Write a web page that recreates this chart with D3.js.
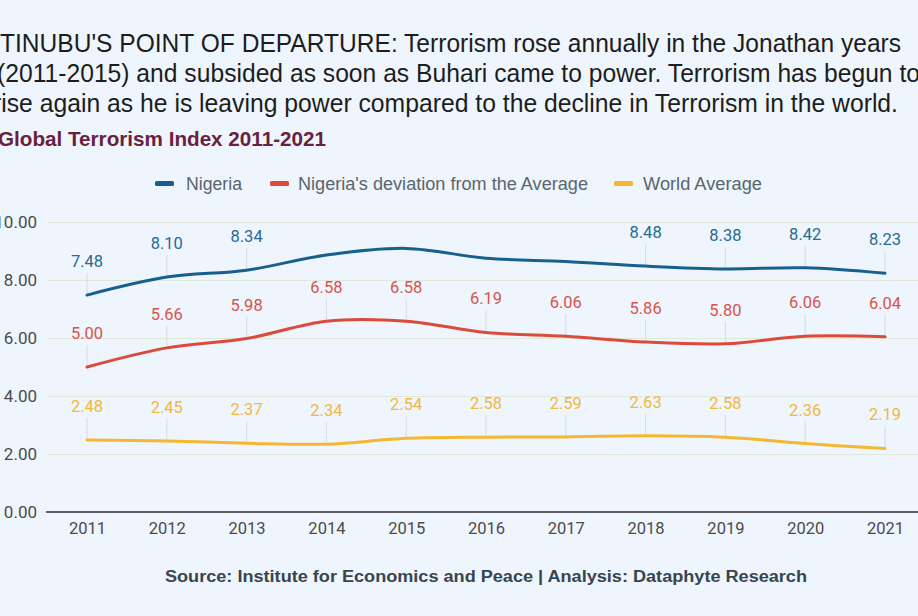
<!DOCTYPE html>
<html>
<head>
<meta charset="utf-8">
<script src="https://cdn.jsdelivr.net/npm/d3@7"></script>
<style>
  html, body { margin: 0; padding: 0; background: #eef5fc; overflow: hidden; }
  svg { display: block; }
</style>
</head>
<body>
<svg id="chart" width="918" height="616"></svg>
<script>
// ---- data ----
const years = [2011, 2012, 2013, 2014, 2015, 2016, 2017, 2018, 2019, 2020, 2021];
const nigeria = [7.48, 8.10, 8.34, 8.86, 9.09, 8.75, 8.64, 8.48, 8.38, 8.42, 8.23];
const deviation = [5.00, 5.66, 5.98, 6.58, 6.58, 6.19, 6.06, 5.86, 5.80, 6.06, 6.04];
const worldAverage = [2.48, 2.45, 2.37, 2.34, 2.54, 2.58, 2.59, 2.63, 2.58, 2.36, 2.19];
const nigeriaUnlabelledYears = [2014, 2015, 2016, 2017];
const yTicks = [0, 2, 4, 6, 8, 10];
const seriesNames = ["Nigeria", "Nigeria's deviation from the Average", "World Average"];
const titleLines = [
  "TINUBU'S POINT OF DEPARTURE: Terrorism rose annually in the Jonathan years",
  "(2011-2015) and subsided as soon as Buhari came to power. Terrorism has begun to",
  "rise again as he is leaving power compared to the decline in Terrorism in the world."
];
const subtitle = "Global Terrorism Index 2011-2021";
const source = "Source: Institute for Economics and Peace | Analysis: Dataphyte Research";

// ---- styles ----
const colors = ["#175f8c", "#dc4a3b", "#f5b730"];
const labelColors = ["#2a6a92", "#d9534a", "#f2b840"];
const SANS = "'Liberation Sans', Arial, sans-serif";
const ROBOTO = "Roboto, 'Noto Sans', sans-serif";

const svg = d3.select("#chart");
svg.append("rect").attr("width", 918).attr("height", 616).attr("fill", "#eef5fc");

// title
const titleX = [0, -3, -7];
const titleLen = [901, 923, 905];
const titleY = [52, 82, 111.5];
titleLines.forEach((t, i) => {
  svg.append("text")
    .attr("x", titleX[i]).attr("y", titleY[i])
    .attr("font-family", SANS).attr("font-size", 26)
    .attr("fill", "#1d1d1d")
    .attr("textLength", titleLen[i]).attr("lengthAdjust", "spacingAndGlyphs")
    .text(t);
});
svg.append("text")
  .attr("x", -2).attr("y", 146)
  .attr("font-family", SANS).attr("font-size", 20.5).attr("font-weight", "bold")
  .attr("fill", "#6b1f3e")
  .attr("textLength", 328).attr("lengthAdjust", "spacingAndGlyphs")
  .text(subtitle);

// legend
const legendMarkX = [155, 270, 614];
const legendTextX = [186, 298, 643];
const legendTextLen = [56, 290, 119];
seriesNames.forEach((n, i) => {
  svg.append("rect")
    .attr("x", legendMarkX[i]).attr("y", 181)
    .attr("width", 19).attr("height", 5).attr("rx", 1.5)
    .attr("fill", colors[i]);
  svg.append("text")
    .attr("x", legendTextX[i]).attr("y", 189.5)
    .attr("font-family", SANS).attr("font-size", 17.5)
    .attr("fill", "#5a656e")
    .attr("textLength", legendTextLen[i]).attr("lengthAdjust", "spacingAndGlyphs")
    .text(n);
});

// scales
const x = d3.scalePoint().domain(years).range([87, 885]);
const y = d3.scaleLinear().domain([0, 10]).range([512, 222]);

// y axis with gridlines
const yAxis = svg.append("g")
  .attr("transform", "translate(48,0)")
  .call(d3.axisLeft(y).tickValues(yTicks).tickFormat(d3.format(".2f")).tickSize(-870).tickPadding(11));
yAxis.select(".domain").remove();
yAxis.selectAll(".tick line")
  .attr("stroke", d => d === 0 ? "none" : "#dfe8d9")
  .attr("stroke-width", 1);
yAxis.selectAll(".tick text")
  .attr("font-family", ROBOTO).attr("font-size", 17)
  .attr("fill", "#4b4b4b");

// x axis
const xAxis = svg.append("g")
  .attr("transform", "translate(0,512)")
  .call(d3.axisBottom(x).tickSize(0).tickPadding(10));
xAxis.select(".domain").remove();
xAxis.selectAll(".tick text")
  .attr("font-family", ROBOTO).attr("font-size", 16.5)
  .attr("fill", "#4b4b4b");
svg.append("line")
  .attr("x1", 46).attr("x2", 918)
  .attr("y1", y(0)).attr("y2", y(0))
  .attr("stroke", "#2b2b2b").attr("stroke-width", 1.6);

// lines
const allSeries = [nigeria, deviation, worldAverage];
const line = d3.line()
  .x((d, i) => x(years[i]))
  .y(d => y(d))
  .curve(d3.curveCatmullRom.alpha(0));

// connectors & labels first (under lines)
allSeries.forEach((vals, si) => {
  const g = svg.append("g");
  vals.forEach((v, i) => {
    if (si === 0 && nigeriaUnlabelledYears.includes(years[i])) return;
    g.append("line")
      .attr("x1", x(years[i])).attr("x2", x(years[i]))
      .attr("y1", y(v) - 22).attr("y2", y(v))
      .attr("stroke", "#d4dce3").attr("stroke-width", 1);
    g.append("text")
      .attr("x", x(years[i])).attr("y", y(v) - 28)
      .attr("text-anchor", "middle")
      .attr("font-family", ROBOTO).attr("font-size", 16.5)
      .attr("fill", labelColors[si])
      .text(d3.format(".2f")(v));
  });
});

allSeries.forEach((vals, si) => {
  svg.append("path")
    .datum(vals)
    .attr("d", line)
    .attr("fill", "none")
    .attr("stroke", colors[si])
    .attr("stroke-width", 3)
    .attr("stroke-linecap", "round");
});

// source
svg.append("text")
  .attr("x", 486).attr("y", 582)
  .attr("text-anchor", "middle")
  .attr("font-family", SANS).attr("font-size", 16).attr("font-weight", "bold")
  .attr("fill", "#37454f")
  .attr("textLength", 642).attr("lengthAdjust", "spacingAndGlyphs")
  .text(source);
</script>
</body>
</html>
